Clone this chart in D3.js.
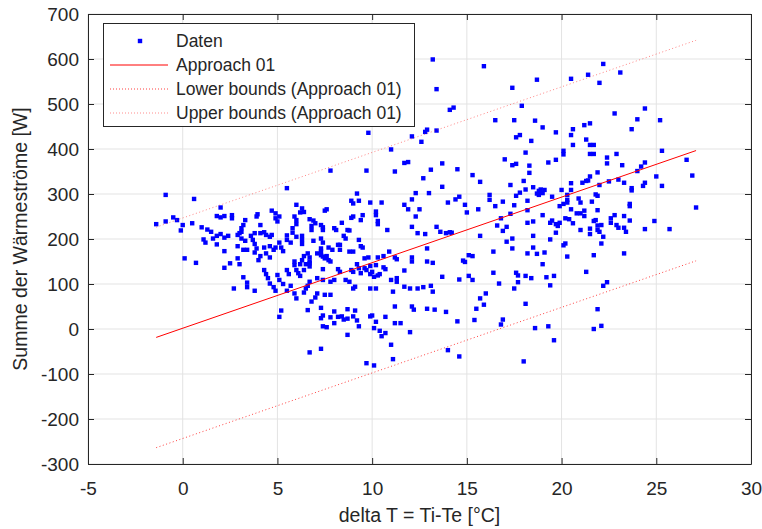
<!DOCTYPE html>
<html>
<head>
<meta charset="utf-8">
<script src="https://cdn.jsdelivr.net/npm/d3@7"></script>
<style>
  body { margin: 0; background: #fff; }
  text { font-family: "Liberation Sans", Arial, sans-serif; fill: #262626; }
</style>
</head>
<body>
<div id="chart"></div>
<script>
// Daten: [delta T in °C, Summe der Wärmeströme in W]
var datenPunkte = [
  [-0.9,298],[0.6,289],[2.0,270],[5.5,313],[6.0,276],[-1.4,233],[-0.9,239],[-0.5,248],[-0.3,242],[0.0,231],
  [-0.1,219],[0.5,235],[0.1,157],[0.7,147],[1.8,251],[2.0,248],[2.2,251],[2.6,253],[2.6,246],[1.0,226],
  [1.3,221],[1.5,216],[1.1,199],[1.2,192],[1.6,201],[1.8,207],[2.0,211],[2.2,203],[2.4,207],[1.8,188],
  [2.2,173],[2.5,146],[2.2,136],[2.9,157],[3.0,144],[2.9,184],[3.2,176],[3.4,176],[3.1,216],[3.0,213],
  [2.9,209],[3.1,224],[3.2,231],[3.3,242],[3.3,196],[3.1,201],[3.6,207],[3.8,213],[4.1,213],[4.3,215],
  [4.4,209],[3.9,250],[3.95,255],[4.1,231],[3.7,198],[3.8,189],[3.9,179],[3.8,170],[4.0,153],[4.1,162],
  [4.3,181],[4.4,168],[4.6,159],[4.7,209],[4.6,205],[4.7,263],[4.9,257],[4.9,246],[5.0,239],[5.1,250],
  [5.1,192],[5.2,181],[5.3,173],[4.9,181],[4.8,176],[4.6,184],[5.5,208],[5.5,198],[5.7,192],[5.8,224],
  [5.8,214],[6.0,205],[6.0,233],[5.9,250],[6.0,242],[4.3,131],[4.4,122],[4.5,113],[4.6,101],[5.0,120],
  [5.1,109],[5.3,100],[5.5,131],[5.6,122],[5.9,150],[5.9,142],[6.0,131],[6.1,124],[3.2,115],[3.4,93],
  [3.4,103],[2.7,90],[3.8,85],[4.8,93],[4.9,85],[5.5,85],[5.7,96],[5.9,79],[6.0,68],
  [7.8,352],[9.7,352],[11.2,350],[12.7,335],[13.7,316],[12.3,302],[13.0,302],[14.0,281],[9.2,301],[8.9,285],
  [9.0,279],[9.3,285],[9.9,281],[10.5,281],[11.7,276],[11.9,266],[12.1,288],[12.5,266],[6.3,268],[6.4,260],
  [6.2,259],[7.5,263],[7.6,266],[9.0,250],[9.5,253],[10.2,261],[10.2,253],[10.3,240],[10.3,233],[8.4,236],
  [8.9,247],[9.4,242],[10.8,220],[12.3,250],[12.1,227],[12.4,213],[13.4,227],[13.6,216],[13.9,213],[12.8,211],
  [6.3,207],[6.3,198],[6.3,189],[6.7,244],[6.9,241],[7.0,235],[6.8,229],[6.8,220],[7.3,231],[7.4,226],
  [7.4,220],[8.0,224],[8.1,220],[8.7,220],[8.8,219],[8.5,207],[8.6,201],[7.3,201],[7.4,192],[6.9,196],
  [8.2,187],[8.3,187],[8.3,176],[8.8,172],[9.0,172],[9.3,198],[9.4,184],[9.5,181],[7.3,179],[7.3,172],
  [7.4,161],[7.5,157],[7.6,162],[7.7,181],[7.9,176],[6.6,168],[6.7,159],[6.7,150],[6.7,146],[6.4,162],
  [6.3,153],[6.2,144],[6.4,131],[6.5,144],[6.7,139],[7.4,133],[7.1,168],[7.3,164],[7.7,153],[7.8,150],
  [8.2,133],[8.3,127],[8.6,109],[8.8,105],[8.0,109],[7.8,105],[7.4,109],[7.1,113],[6.7,105],[6.6,96],
  [6.5,90],[6.4,81],[7.1,79],[7.0,70],[7.5,76],[7.8,76],[8.9,131],[9.0,127],[9.2,144],[9.3,135],
  [9.6,157],[9.8,159],[9.6,135],[9.7,131],[9.9,122],[10.0,127],[10.1,116],[10.3,159],[10.6,162],[9.9,140],
  [10.2,142],[10.3,119],[10.4,122],[9.4,124],[9.1,94],[9.0,90],[9.9,90],[10.2,90],[10.9,172],[11.2,159],
  [11.3,155],[10.6,137],[10.7,133],[11.0,109],[11.3,113],[11.3,105],[11.7,130],[12.1,159],[12.1,150],[12.9,179],
  [12.9,150],[13.2,147],[12.4,90],[12.7,93],[11.7,94],[12.0,90],[13.1,96],[13.2,83],[13.7,116],[11.1,83],
  [6.2,118],
  [14.1,487],[14.3,492],[17.9,496],[16.5,464],[17.5,464],[18.6,463],[19.0,448],[19.7,437],[20.6,444],[21.2,453],
  [20.5,431],[21.3,421],[17.6,426],[17.8,431],[18.4,418],[20.6,409],[18.1,392],[20.1,396],[20.1,388],[17.0,377],
  [17.4,364],[17.6,367],[18.3,363],[19.3,370],[19.7,376],[18.3,347],[14.5,355],[15.3,342],[15.7,327],[18.0,329],
  [21.4,330],[17.3,320],[18.5,315],[18.1,310],[17.8,303],[18.8,307],[18.9,310],[18.7,301],[18.8,298],[19.0,302],
  [19.1,309],[17.6,296],[19.5,294],[20.0,309],[20.5,309],[20.3,298],[20.3,287],[20.9,290],[21.0,281],[20.5,324],
  [21.1,325],[21.3,329],[14.4,288],[14.6,294],[14.9,276],[15.0,259],[15.6,266],[16.2,298],[16.2,287],[16.5,273],
  [16.9,283],[18.2,285],[17.5,275],[19.9,273],[20.1,278],[20.3,281],[20.5,266],[20.8,257],[21.0,257],[21.2,251],
  [21.2,263],[16.8,246],[17.3,256],[18.2,264],[19.0,253],[16.6,230],[17.1,227],[16.9,218],[18.2,236],[18.5,239],
  [19.4,236],[19.5,241],[19.7,233],[19.8,229],[19.9,236],[19.7,214],[20.2,246],[20.4,244],[20.6,235],[21.0,220],
  [14.1,215],[14.2,214],[15.7,207],[17.1,194],[17.4,201],[18.5,207],[19.4,199],[17.4,179],[16.4,172],[18.2,168],
  [18.7,167],[19.1,170],[18.5,181],[20.2,190],[20.1,186],[20.3,161],[19.0,144],[15.1,164],[15.3,162],[14.8,152],
  [14.9,149],[16.4,125],[17.6,125],[17.7,119],[18.1,118],[18.4,113],[19.2,115],[19.6,118],[21.3,127],[14.6,110],
  [15.1,118],[15.3,109],[16.7,101],[17.7,104],[17.5,90],[19.4,97],[16.0,79],[15.7,68],[13.7,368],
  [24.4,490],[22.8,479],[24.0,466],[25.2,464],[23.7,444],[21.5,457],[21.5,409],[21.7,409],[21.5,389],[21.7,389],
  [22.9,389],[22.4,381],[22.4,368],[23.2,364],[21.9,348],[21.5,339],[25.3,396],[24.4,370],[24.2,361],[24.0,351],
  [26.6,376],[26.9,341],[25.0,339],[23.0,332],[22.5,328],[22.0,320],[23.3,325],[24.4,325],[24.3,318],[23.7,313],
  [23.7,308],[25.3,318],[21.8,299],[21.9,296],[21.6,283],[21.9,264],[23.6,278],[23.6,273],[27.1,270],[22.8,253],
  [23.3,251],[22.6,246],[22.6,236],[21.8,242],[21.7,240],[23.6,241],[24.9,240],[21.9,230],[22.1,231],[22.9,231],
  [23.0,225],[23.3,225],[23.4,216],[21.9,220],[22.0,216],[24.4,222],[25.7,222],[21.5,223],[21.5,211],[22.2,205],
  [22.1,190],[21.7,164],[23.3,168],[22.4,104],[22.2,96],
  [13.2,599],[15.9,584],[18.7,554],[13.4,533],[17.4,536],[9.8,436],[11.0,399],[12.1,428],[12.6,416],[12.8,438],
  [12.9,443],[13.4,441],[11.7,369],[11.9,371],[13.1,354],
  [22.2,589],[21.4,565],[20.5,556],[23.1,570],[22.0,547],
  [5.2,41],[5.1,27],[6.6,42],[6.8,61],[7.3,47],[7.4,30],[7.3,24],[7.4,6],[7.6,4],[7.8,26],
  [8.0,39],[8.2,27],[8.4,28],[8.5,21],[8.7,23],[8.0,13],[8.7,-13],[6.7,-52],[7.3,-44],[8.7,44],
  [9.1,41],[9.0,28],[9.2,19],[9.3,6],[9.9,28],[10.0,30],[10.2,16],[10.1,2],[10.4,-4],[10.5,-16],
  [10.7,-9],[11.2,13],[11.5,13],[10.7,27],[11.2,50],[12.1,50],[12.2,43],[12.0,-7],[11.0,-35],[11.1,-67],
  [9.7,-76],[10.1,-81],[12.9,45],[13.3,43],[13.9,38],[14.0,-47],[14.6,-61],[14.5,17],[15.4,20],[15.5,45],
  [15.9,54],[16.9,21],[16.8,10],[18.1,56],[18.6,2],[19.3,6],[19.6,-25],[18.0,-72],
  [21.9,44],[21.7,0],[22.1,7]
];

// Approach 01: lineare Regression + Grenzen
var fitAchsenabschnitt = 1.7;
var fitSteigung = 14.57;
var grenzAbstand = 245;

var xTicks = [-5, 0, 5, 10, 15, 20, 25, 30];
var yTicks = [-300, -200, -100, 0, 100, 200, 300, 400, 500, 600, 700];

var legendeTexte = ["Daten", "Approach 01", "Lower bounds (Approach 01)", "Upper bounds (Approach 01)"];

var width = 762, height = 529;
var margin = {top: 14, right: 11, bottom: 65, left: 88};

var svg = d3.select("#chart").append("svg")
  .attr("width", width)
  .attr("height", height);

var xScale = d3.scaleLinear().domain([-5, 30]).range([margin.left, width - margin.right]);
var yScale = d3.scaleLinear().domain([-300, 700]).range([height - margin.bottom, margin.top]);

var x0 = margin.left, x1 = width - margin.right;
var y0 = height - margin.bottom, y1 = margin.top;

// plain hyphen like MATLAB, not the unicode minus
var fmt = d => String(d);

// grid
svg.append("g").selectAll("line.gx").data(xTicks).enter().append("line")
  .attr("x1", d => xScale(d)).attr("x2", d => xScale(d))
  .attr("y1", y0).attr("y2", y1)
  .attr("stroke", "#e3e3e3").attr("stroke-width", 1);
svg.append("g").selectAll("line.gy").data(yTicks).enter().append("line")
  .attr("x1", x0).attr("x2", x1)
  .attr("y1", d => yScale(d)).attr("y2", d => yScale(d))
  .attr("stroke", "#e3e3e3").attr("stroke-width", 1);

// axes (inward ticks, MATLAB style)
var axisColor = "#262626";
svg.append("g").attr("transform", "translate(0," + y0 + ")")
  .call(d3.axisBottom(xScale).tickValues(xTicks).tickFormat(fmt).tickSizeInner(-6).tickSizeOuter(0).tickPadding(18))
  .call(g => g.select(".domain").attr("stroke", axisColor))
  .call(g => g.selectAll(".tick line").attr("stroke", axisColor))
  .call(g => g.selectAll("text").attr("font-size", 19).attr("fill", axisColor).style("font-family", "Liberation Sans, Arial"));
svg.append("g").attr("transform", "translate(0," + y1 + ")")
  .call(d3.axisTop(xScale).tickValues(xTicks).tickSizeInner(-6).tickSizeOuter(0).tickFormat(""))
  .call(g => g.select(".domain").attr("stroke", axisColor))
  .call(g => g.selectAll(".tick line").attr("stroke", axisColor));
svg.append("g").attr("transform", "translate(" + x0 + ",0)")
  .call(d3.axisLeft(yScale).tickValues(yTicks).tickFormat(fmt).tickSizeInner(-6).tickSizeOuter(0).tickPadding(9))
  .call(g => g.select(".domain").attr("stroke", axisColor))
  .call(g => g.selectAll(".tick line").attr("stroke", axisColor))
  .call(g => g.selectAll("text").attr("font-size", 19).attr("fill", axisColor).style("font-family", "Liberation Sans, Arial"));
svg.append("g").attr("transform", "translate(" + x1 + ",0)")
  .call(d3.axisRight(yScale).tickValues(yTicks).tickSizeInner(-6).tickSizeOuter(0).tickFormat(""))
  .call(g => g.select(".domain").attr("stroke", axisColor))
  .call(g => g.selectAll(".tick line").attr("stroke", axisColor));

// scatter
svg.append("g").selectAll("rect").data(datenPunkte).enter().append("rect")
  .attr("x", d => xScale(d[0]) - 2.2)
  .attr("y", d => yScale(d[1]) - 2.2)
  .attr("width", 4.4).attr("height", 4.4)
  .attr("fill", "#0000ff");

// fit lines
var xMin = d3.min(datenPunkte, d => d[0]);
var xMax = d3.max(datenPunkte, d => d[0]);
var fit = x => fitAchsenabschnitt + fitSteigung * x;

var line = d3.line().x(d => xScale(d[0])).y(d => yScale(d[1]));

svg.append("path")
  .attr("d", line([[xMin, fit(xMin)], [xMax, fit(xMax)]]))
  .attr("fill", "none").attr("stroke", "#ff0000").attr("stroke-width", 1);
svg.append("path")
  .attr("d", line([[xMin, fit(xMin) - grenzAbstand], [xMax, fit(xMax) - grenzAbstand]]))
  .attr("fill", "none").attr("stroke", "#ff0000").attr("stroke-width", 1)
  .attr("stroke-dasharray", "1,2.5").attr("opacity", 0.75);
svg.append("path")
  .attr("d", line([[xMin, fit(xMin) + grenzAbstand], [xMax, fit(xMax) + grenzAbstand]]))
  .attr("fill", "none").attr("stroke", "#ff3333").attr("stroke-width", 1)
  .attr("stroke-dasharray", "1,2.5").attr("opacity", 0.6);

// axis titles
svg.append("text")
  .attr("x", (x0 + x1) / 2).attr("y", 522)
  .attr("text-anchor", "middle").attr("font-size", 19.5)
  .text("delta T = Ti-Te [°C]");
svg.append("text")
  .attr("transform", "translate(27," + ((y0 + y1) / 2) + ") rotate(-90)")
  .attr("text-anchor", "middle").attr("font-size", 19.5)
  .text("Summe der Wärmeströme [W]");

// legend
var leg = svg.append("g");
leg.append("rect")
  .attr("x", 103.5).attr("y", 23.5).attr("width", 311).attr("height", 103)
  .attr("fill", "#fff").attr("stroke", axisColor).attr("stroke-width", 1);
var rowY = [41, 65, 89, 113];
leg.append("rect").attr("x", 137.8).attr("y", rowY[0] - 2.2).attr("width", 4.4).attr("height", 4.4).attr("fill", "#0000ff");
leg.append("line").attr("x1", 110).attr("x2", 168).attr("y1", rowY[1]).attr("y2", rowY[1])
  .attr("stroke", "#ff0000").attr("stroke-width", 1);
leg.append("line").attr("x1", 110).attr("x2", 168).attr("y1", rowY[2]).attr("y2", rowY[2])
  .attr("stroke", "#ff0000").attr("stroke-width", 1).attr("stroke-dasharray", "1,2").attr("opacity", 0.75);
leg.append("line").attr("x1", 110).attr("x2", 168).attr("y1", rowY[3]).attr("y2", rowY[3])
  .attr("stroke", "#ff3333").attr("stroke-width", 1).attr("stroke-dasharray", "1,2").attr("opacity", 0.55);
leg.selectAll("text.l").data(legendeTexte).enter().append("text")
  .attr("x", 176).attr("y", (d, i) => rowY[i] + 6)
  .attr("font-size", 17.5)
  .attr("fill", "#000")
  .text(d => d);
</script>
</body>
</html>
